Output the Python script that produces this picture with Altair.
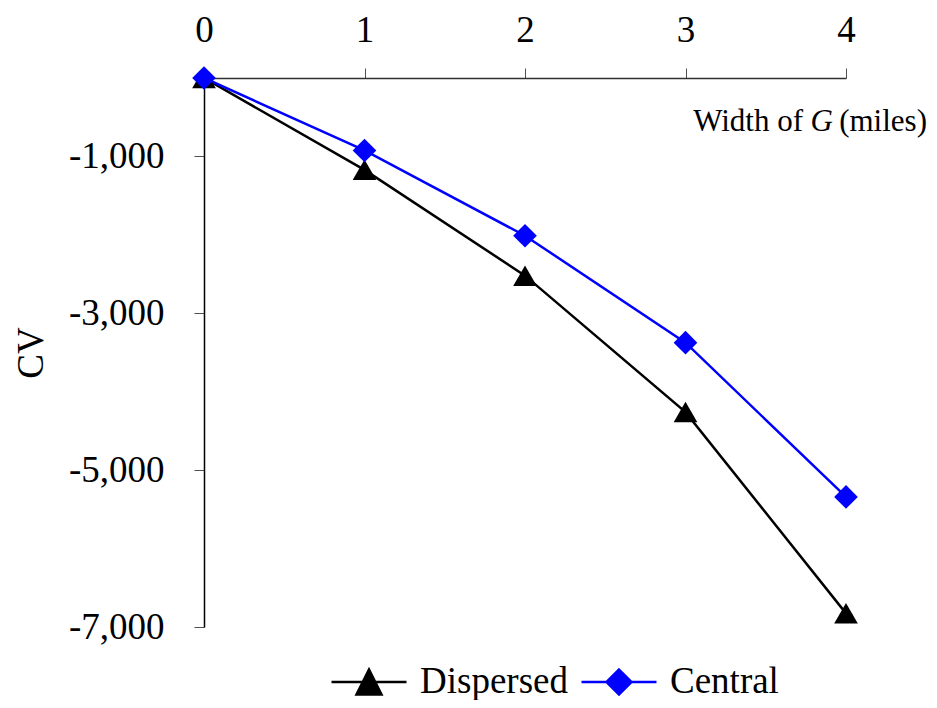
import altair as alt
import pandas as pd

widths = [0, 1, 2, 3, 4]
dispersed = [0, -1171, -2520, -4260, -6826]
central = [0, -924, -2011, -3375, -5341]
series_names = ["Dispersed", "Central"]
series_colors = ["#000000", "#0000FF"]
series_shapes = ["triangle-up", "diamond"]
y_ticks = [-7000, -5000, -3000, -1000]
x_ticks = [0, 1, 2, 3, 4]

rows = []
for name, vals in zip(series_names, [dispersed, central]):
    for w, v in zip(widths, vals):
        rows.append({"width": w, "cv": v, "series": name})
df = pd.DataFrame(rows)

FONT = "Liberation Serif"
FS = 37

x_enc = alt.X(
    "width:Q",
    scale=alt.Scale(domain=[0, 4], nice=False, zero=False),
    axis=alt.Axis(
        orient="top", values=x_ticks, format="d", title=None,
        labelFont=FONT, labelFontSize=FS, labelColor="#000000",
        labelPadding=19, labelFlush=False, tickSize=10, tickColor="#505050", tickWidth=1,
        domainColor="#303030", domainWidth=1.5, grid=False,
    ),
)
y_enc = alt.Y(
    "cv:Q",
    scale=alt.Scale(domain=[-7000, 0], nice=False, zero=False),
    axis=alt.Axis(
        values=y_ticks,
        labelExpr="(datum.value < 0 ? '-' : '') + format(abs(datum.value), ',d')",
        title="CV",
        labelFont=FONT, labelFontSize=FS, labelColor="#000000",
        labelPadding=30, labelFlush=False, tickSize=10, tickColor="#505050", tickWidth=1,
        domainColor="#000000", domainWidth=1.5, grid=False,
        titleFont=FONT, titleFontSize=FS, titleFontWeight="normal",
        titleColor="#000000", titleBaseline="middle",
        titleX=-173, titleY=274.5, titleAngle=270,
    ),
)

color_scale = alt.Scale(domain=series_names, range=series_colors)
shape_scale = alt.Scale(domain=series_names, range=series_shapes)

lines = alt.Chart(df).mark_line(strokeWidth=2.5).encode(
    x=x_enc, y=y_enc,
    color=alt.Color("series:N", scale=color_scale, legend=None),
    detail="series:N",
)

tri_path = "M-1,0H1M0,-0.333L0.333,0.333L-0.333,0.333Z"
dia_path = "M-1,0H1M0,-0.333L0.333,0L0,0.333L-0.333,0Z"
legend_x = [126, 376]
legend_paths = [tri_path, dia_path]

point_layers = []
for name, col, path, lx in zip(series_names, series_colors, legend_paths, legend_x):
    lg = alt.Legend(
        orient="none", legendX=lx, legendY=565, direction="horizontal",
        title=None, labelFont=FONT, labelFontSize=FS, labelColor="#000000",
        symbolType=path, symbolSize=5625, symbolStrokeWidth=2.5,
        symbolStrokeColor=col, symbolFillColor=col, symbolOpacity=1,
        labelOffset=12, padding=0,
    )
    layer = alt.Chart(df).transform_filter(alt.datum.series == name).mark_point(
        filled=True, size=560, opacity=1
    ).encode(
        x=x_enc, y=y_enc,
        color=alt.Color("series:N", scale=alt.Scale(domain=[name], range=[col]), legend=lg),
        shape=alt.Shape("series:N", scale=shape_scale, legend=None),
    )
    point_layers.append(layer)

ann_style = dict(font=FONT, fontSize=31, color="#000000", baseline="alphabetic", align="right", dy=53)
ann1 = alt.Chart().mark_text(text="Width of", dx=-43, **ann_style).encode(
    x=alt.datum(4), y=alt.datum(0))
ann2 = alt.Chart().mark_text(text="G", dx=-13, fontStyle="italic", **ann_style).encode(
    x=alt.datum(4), y=alt.datum(0))
ann3 = alt.Chart().mark_text(text="(miles)", dx=81, **ann_style).encode(
    x=alt.datum(4), y=alt.datum(0))

chart = alt.layer(lines, *point_layers, ann1, ann2, ann3).resolve_scale(
    color="independent"
).properties(
    width=642, height=549,
    autosize=alt.AutoSizeParams(type="none"),
    padding={"left": 196, "top": 70, "right": 83, "bottom": 73},
).configure(background="white").configure_view(stroke=None)

chart.save("out.html", embed_options={"renderer": "svg", "actions": False})
